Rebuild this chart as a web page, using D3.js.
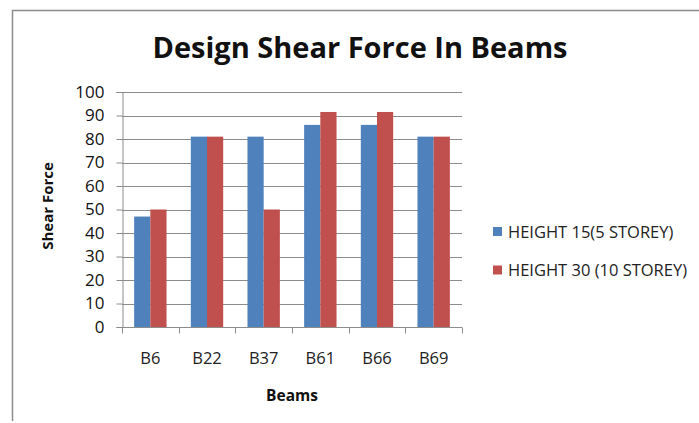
<!DOCTYPE html>
<html>
<head>
<meta charset="utf-8">
<script src="https://cdn.jsdelivr.net/npm/d3@7"></script>
<style>
  html, body { margin: 0; padding: 0; background: #fff; }
  svg { display: block; }
  text { font-family: "Open Sans", "Noto Sans", sans-serif; }
</style>
</head>
<body>
<svg id="chart" width="699" height="423"></svg>
<script>
// Beam labels and design shear force for each building height
const beams = ["B6", "B22", "B37", "B61", "B66", "B69"];
const seriesNames = ["HEIGHT 15(5 STOREY)", "HEIGHT 30 (10 STOREY)"];
const height15 = [47, 81, 81, 86, 86, 81];
const height30 = [50, 81, 50, 91.5, 91.5, 81];
const yTicks = [0, 10, 20, 30, 40, 50, 60, 70, 80, 90, 100];
const colors = ["#4F81BD", "#C0504D"];

const svg = d3.select("#chart");
const W = 699, H = 423;

// outer chart frame
svg.append("path")
  .attr("d", `M${W + 2},10.5 H12.5 V${H - 2}`)
  .attr("fill", "none").attr("stroke", "#8c8c8c").attr("stroke-width", 1.5);

const plot = { left: 122, right: 462, top: 92, bottom: 327 };

const x = d3.scaleBand().domain(beams).range([plot.left, plot.right]);
const y = d3.scaleLinear().domain([0, 100]).range([plot.bottom, plot.top]);

// gridlines
svg.append("g").selectAll("line").data(yTicks.filter(d => d > 0)).join("line")
  .attr("x1", plot.left).attr("x2", plot.right)
  .attr("y1", d => Math.round(y(d)) + 0.5).attr("y2", d => Math.round(y(d)) + 0.5)
  .attr("stroke", "#8c8c8c").attr("stroke-width", 1);

// bars
const barW = x.bandwidth() / 3.5;
const groups = [height15, height30];
groups.forEach((vals, si) => {
  svg.append("g").selectAll("rect").data(beams).join("rect")
    .attr("x", d => x(d) + x.bandwidth() / 2 - barW + si * barW)
    .attr("width", barW)
    .attr("y", (d, i) => y(vals[i]))
    .attr("height", (d, i) => y(0) - y(vals[i]))
    .attr("fill", colors[si]);
});

// y axis
const yAxis = d3.axisLeft(y).tickValues(yTicks).tickSize(6).tickPadding(12);
const gy = svg.append("g").attr("transform", `translate(${plot.left + 0.5},0)`).call(yAxis);
gy.select(".domain").attr("stroke", "#8c8c8c");
gy.selectAll(".tick line").attr("stroke", "#8c8c8c");
gy.selectAll(".tick text").attr("font-size", 17).attr("fill", "#111")
  .attr("font-family", "'Open Sans', sans-serif");

// x axis with ticks on category boundaries
const gx = svg.append("g").attr("transform", `translate(0,${plot.bottom + 0.5})`);
gx.append("line").attr("x1", plot.left).attr("x2", plot.right)
  .attr("stroke", "#8c8c8c");
gx.selectAll("line.tk").data(beams.concat(["_end"])).join("line").attr("class", "tk")
  .attr("x1", (d, i) => Math.round(plot.left + i * x.step()) + 0.5)
  .attr("x2", (d, i) => Math.round(plot.left + i * x.step()) + 0.5)
  .attr("y1", 0).attr("y2", 6).attr("stroke", "#8c8c8c");
gx.selectAll("text").data(beams).join("text")
  .attr("x", d => x(d) + x.bandwidth() / 2)
  .attr("y", 36)
  .attr("text-anchor", "middle")
  .attr("font-size", 16.5).attr("fill", "#222")
  .text(d => d);

// title
svg.append("text")
  .attr("x", 360).attr("y", 58)
  .attr("text-anchor", "middle")
  .attr("font-size", 29).attr("font-weight", "bold").attr("fill", "#111")
  .text("Design Shear Force In Beams");

// axis titles
svg.append("text")
  .attr("x", 292).attr("y", 401)
  .attr("text-anchor", "middle")
  .attr("font-size", 15.5).attr("font-weight", "bold").attr("fill", "#111")
  .text("Beams");
svg.append("text")
  .attr("transform", "translate(53,206) rotate(-90)")
  .attr("text-anchor", "middle")
  .attr("font-size", 15).attr("font-weight", "bold").attr("fill", "#111")
  .text("Shear Force");

// legend
const legend = svg.append("g");
seriesNames.forEach((name, i) => {
  const ly = 232 + i * 38.5;
  legend.append("rect").attr("x", 493).attr("y", ly - 5).attr("width", 9).attr("height", 9)
    .attr("fill", colors[i]);
  legend.append("text").attr("x", 508).attr("y", ly).attr("dy", "0.35em")
    .attr("font-size", 16.5).attr("fill", "#222").text(name);
});
</script>
</body>
</html>
